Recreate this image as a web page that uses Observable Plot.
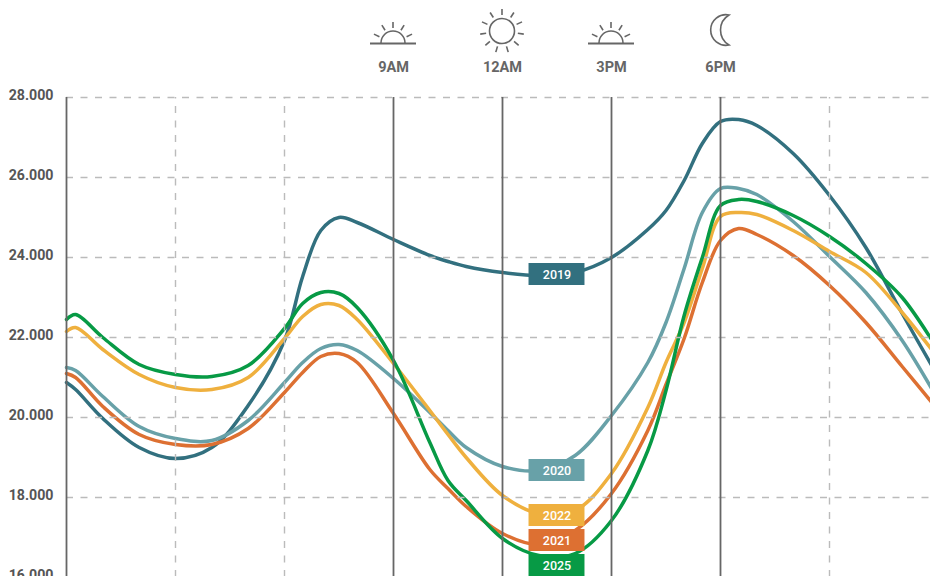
<!DOCTYPE html>
<html>
<head>
<meta charset="utf-8">
<script src="https://cdn.jsdelivr.net/npm/d3@7"></script>
<script src="https://cdn.jsdelivr.net/npm/@observablehq/plot@0.6"></script>
<style>
html,body{margin:0;padding:0;background:#fff;overflow:hidden}
svg{display:block}
</style>
</head>
<body>
<div id="chart"></div>
<script>
const hours = [0,0.25,1,2,3,4,5,6,6.5,7,7.5,8,9,10,10.5,11,12,13,14,15,16,16.5,17,17.5,18,18.5,19,20,21,22,23,24];
const y2019 = [20875,20700,19975,19250,18975,19250,20300,21925,23525,24675,25000,24875,24450,24050,23900,23775,23625,23550,23625,24000,24700,25175,25925,26850,27400,27450,27300,26600,25550,24250,22600,21000];
const y2020 = [21250,21175,20525,19775,19475,19425,19925,20875,21375,21725,21825,21675,20975,20125,19675,19250,18775,18675,19050,20050,21375,22375,23725,25125,25725,25725,25575,24900,24025,23125,21925,20425];
const y2021 = [21100,21000,20275,19575,19325,19325,19725,20625,21125,21525,21600,21375,20100,18700,18225,17775,17100,16825,17175,18100,19675,20825,21975,23375,24425,24725,24575,24050,23300,22375,21275,20175];
const y2022 = [22150,22250,21700,21075,20750,20700,21000,21975,22525,22825,22800,22450,21350,20175,19575,19000,18050,17600,17675,18600,20250,21375,22375,23725,25025,25125,25075,24675,24150,23625,22625,21475];
const y2025 = [22450,22575,22000,21325,21075,21025,21300,22225,22850,23125,23100,22750,21425,19375,18425,17925,16975,16550,16600,17425,19175,20675,22550,24000,25300,25450,25400,25050,24525,23850,23000,21675];

const years = ["2019","2020","2021","2022","2025"];
const seriesValues = [y2019,y2020,y2021,y2022,y2025];
const colors = ["#32707f","#68a1a8","#dd7032","#efb03e","#079a45"];
const labelValues = [23575,18675,16925,17550,16300];
const labelHour = 13.5;

const yTicks = [16000,18000,20000,22000,24000,26000,28000];
const solidHours = [0,9,12,15,18];
const dashedHours = [3,6,21];
const timeHours = [9,12,15,18];
const timeLabels = ["9AM","12AM","3PM","6PM"];

const rows = years.flatMap((year,i)=>hours.map((h,j)=>({year,h,v:seriesValues[i][j]})));
const labels = years.map((year,i)=>({year,v:labelValues[i],color:colors[i]}));
const fmt = d => d3.format(",")(d).replace(",",".");

const plot = Plot.plot({
  width:930,height:576,
  marginLeft:66,marginRight:-8,marginTop:97,marginBottom:-1,
  style:{fontFamily:"Roboto",background:"#fff"},
  x:{domain:[0,24],axis:null},
  y:{domain:[16000,28000],axis:null},
  color:{domain:years,range:colors},
  marks:[
    Plot.line(rows,{x:"h",y:"v",z:"year",stroke:"year",strokeWidth:3.5,curve:"catmull-rom"}),
    Plot.ruleY(yTicks,{x1:0,x2:24,stroke:"#bbb",strokeWidth:1.4,strokeDasharray:"7,7.5"}),
    Plot.ruleX(dashedHours,{y1:16000,y2:28000,stroke:"#bbb",strokeWidth:1.4,strokeDasharray:"7,7.5"}),
    Plot.ruleX(solidHours,{y1:16000,y2:28000,stroke:"#666",strokeWidth:1.8}),
    Plot.rect(labels,{x1:()=>labelHour-0.77,x2:()=>labelHour+0.77,y1:d=>d.v-275,y2:d=>d.v+275,fill:"color"}),
    Plot.text(labels,{x:()=>labelHour,y:"v",text:"year",fill:"#fff",fontSize:12.5,fontWeight:500}),
    Plot.axisY(yTicks,{anchor:"left",tickSize:0,tickPadding:13,dy:-2,tickFormat:fmt,fontSize:14.2,fontWeight:700,fill:"#555",label:null}),
    Plot.text(timeHours,{x:d=>d,text:(d,i)=>timeLabels[i],frameAnchor:"top",dy:-30,lineAnchor:"middle",fontSize:14.5,fontWeight:700,fill:"#666"})
  ]
});
document.getElementById("chart").appendChild(plot);

const xs = plot.scale("x");
const g = d3.select(plot).append("g").attr("fill","none").attr("stroke","#666").attr("stroke-width",1.6);
function rays(cx,cy,angles,r0,r1){
  angles.forEach(a=>{
    const t=a*Math.PI/180;
    g.append("line")
      .attr("x1",cx+r0*Math.sin(t)).attr("y1",cy-r0*Math.cos(t))
      .attr("x2",cx+r1*Math.sin(t)).attr("y2",cy-r1*Math.cos(t));
  });
}
function sunrise(cx){
  const cy=43;
  g.append("line").attr("x1",cx-23).attr("x2",cx+23).attr("y1",cy+0.5).attr("y2",cy+0.5).attr("stroke-width",1.8);
  g.append("path").attr("d",`M${cx-12} ${cy}A12 12 0 0 1 ${cx+12} ${cy}`);
  rays(cx,cy,[-65,-32,0,32,65],15,21);
}
sunrise(xs.apply(9));
sunrise(xs.apply(15));
const sx=xs.apply(12);
g.append("circle").attr("cx",sx).attr("cy",31).attr("r",12.5);
rays(sx,31,d3.range(11).map(i=>i*360/11),16,22);
const mx=xs.apply(18)+9;
g.append("path").attr("d",`M${mx} 15A15.3 15.3 0 1 0 ${mx} 45A17.5 17.5 0 0 1 ${mx} 15Z`);
</script>
</body>
</html>
